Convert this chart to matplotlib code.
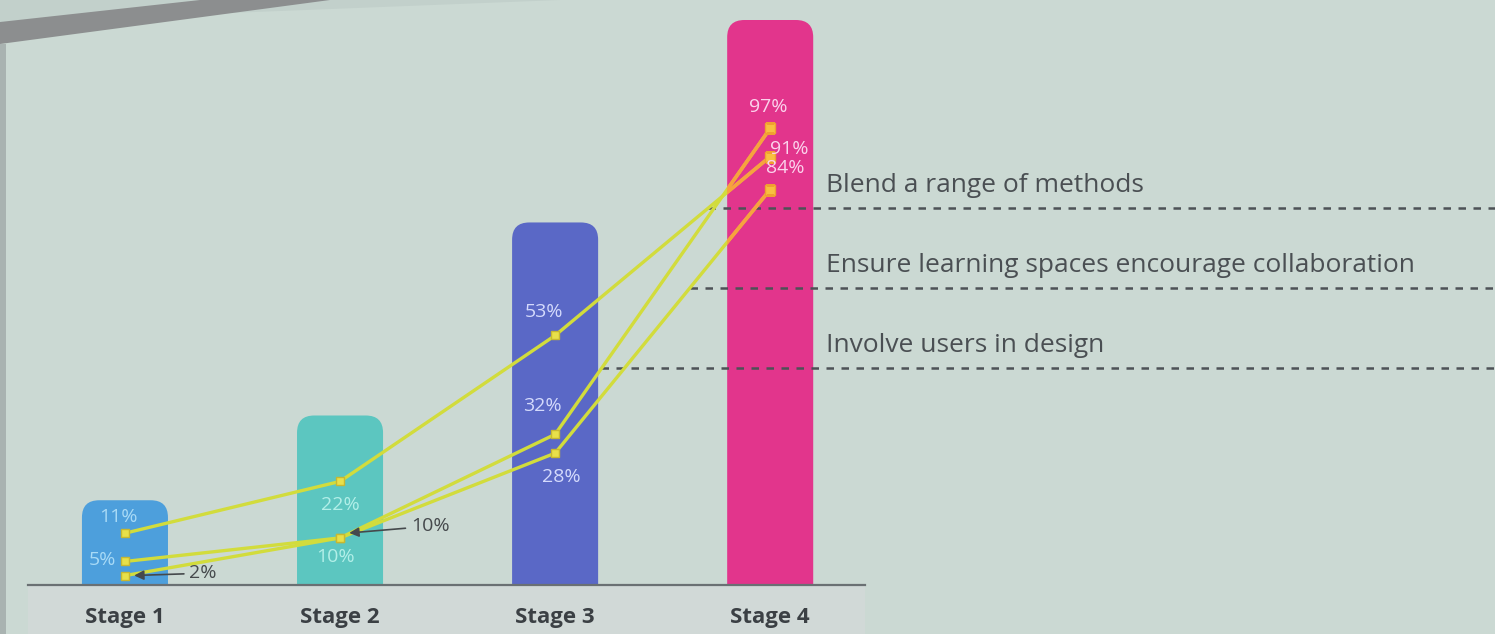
import numpy as np
import matplotlib
matplotlib.use('Agg')
import matplotlib.pyplot as plt
from matplotlib.patches import FancyBboxPatch, Polygon, Rectangle

plt.rcParams['font.family'] = ['Open Sans', 'DejaVu Sans']

# data
stages = ['Stage 1', 'Stage 2', 'Stage 3', 'Stage 4']
bar_levels = [18, 36, 77, 120]          # bar heights (same scale as the %)
bar_colors = ['#4d9fdc', '#5cc6c0', '#5a68c6', '#e2358c']
label_colors = ['#a8daf6', '#b2efe8', '#d4dafc', '#fbd3ec']

series_names = ['Blend a range of methods',
                'Ensure learning spaces encourage collaboration',
                'Involve users in design']
blend = [11, 22, 53, 91]
ensure = [2, 10, 28, 84]
involve = [5, 10, 32, 97]
series = [blend, ensure, involve]
label_heights = [80, 63, 46]            # where the dashed guide lines sit

line_color = '#d2dc3c'
marker_color = '#e8e04a'
bg = '#cbd9d3'

fig = plt.figure(figsize=(14.95, 6.34), dpi=100)
fig.patch.set_facecolor(bg)

# bits of the screen frame / slide panel seen in the photo
W, H = 1495, 634
def px(pts):
    return [(a / W, 1 - b / H) for a, b in pts]
frame = [
    Polygon(px([(0, 0), (560, 0), (0, 22)]), closed=True, fc='#c2d0cb'),
    Polygon(px([(0, 22), (200, 0), (330, 0), (0, 44)]), closed=True, fc='#8c8e8f'),
    Rectangle((0, 0), 6 / W, 1 - 44 / H, fc='#a9b3b1'),
    Rectangle((28 / W, 0), (865 - 28) / W, 49 / H, fc='#d1d9d7'),
]
for p in frame:
    p.set_transform(fig.transFigure)
    p.set_edgecolor('none')
    p.set_zorder(-5)
    fig.patches.append(p)

ax = fig.add_axes([0, 49 / 634, 1, 565 / 634])
ax.set_facecolor('none')
ax.set_xlim(-0.581, 6.37)
ax.set_ylim(0, 120)
x = np.arange(len(stages))

# rounded bars
ypx = 120 / 565
xpx = (6.37 + 0.581) / 1495
w = 0.40
bars = []
for xi, h, c in zip(x, bar_levels, bar_colors):
    p = FancyBboxPatch((xi - w / 2, -10), w, h + 10,
                       boxstyle='round,pad=0,rounding_size=0.08',
                       mutation_aspect=ypx / xpx, fc=c, ec='none', zorder=1)
    ax.add_patch(p)
    bars.append(p)

# lines (they look orange where they cross the pink bar)
for s in series:
    ax.plot(x, s, color=line_color, lw=2.4, zorder=3)
    ax.plot(x, s, ls='none', marker='s', ms=6, color=marker_color,
            mec='#c8b830', zorder=4)
    ln, = ax.plot(x, s, color='#f7a23e', lw=2.6, zorder=3.5)
    ln.set_clip_path(bars[3])
    mk, = ax.plot(x, s, ls='none', marker='s', ms=7, color='#f8c040',
                  mec='#f0a030', zorder=4.5)
    mk.set_clip_path(bars[3])

# value labels inside the bars
fs = 14
def lab(xi, y, txt, col, ha='center'):
    ax.text(xi, y, txt, color=col, fontsize=fs, ha=ha, va='center', zorder=5)

lab(-0.03, blend[0] + 3.5, f'{blend[0]}%', label_colors[0])
lab(-0.04, involve[0] + 0.3, f'{involve[0]}%', label_colors[0], ha='right')
lab(1.0, blend[1] - 5, f'{blend[1]}%', label_colors[1])
lab(0.98, ensure[1] - 4, f'{ensure[1]}%', label_colors[1])
lab(1.95, blend[2] + 5, f'{blend[2]}%', label_colors[2])
lab(1.94, involve[2] + 6, f'{involve[2]}%', label_colors[2])
lab(2.03, ensure[2] - 5, f'{ensure[2]}%', label_colors[2])
lab(2.99, involve[3] + 4.5, f'{involve[3]}%', label_colors[3])
lab(3.09, blend[3] + 1.5, f'{blend[3]}%', label_colors[3])
lab(3.07, ensure[3] + 4.5, f'{ensure[3]}%', label_colors[3])

# callouts outside the bars
ax.annotate(f'{ensure[0]}%', xy=(0.03, ensure[0]), xytext=(0.30, ensure[0] + 0.5),
            fontsize=fs, color='#45494c', va='center',
            arrowprops=dict(arrowstyle='-|>', color='#45494c', lw=1.2,
                            shrinkA=2, shrinkB=2))
ax.annotate(f'{ensure[1]}%', xy=(1.03, ensure[1] + 1), xytext=(1.33, ensure[1] + 2.5),
            fontsize=fs, color='#45494c', va='center',
            arrowprops=dict(arrowstyle='-|>', color='#45494c', lw=1.2,
                            shrinkA=2, shrinkB=2))

# dashed guides and series names on the right
for s, name, yl in zip(series, series_names, label_heights):
    x0 = np.interp(yl, s[2:], x[2:])
    ax.plot([x0, 6.37], [yl, yl], color='#4d5256', ls=(0, (3, 3)), lw=1.8, zorder=2)
    ax.text(3.26, yl + 2.2, name, fontsize=19, color='#4a4f53', va='bottom', zorder=5)

# baseline and stage labels
ax.plot([-0.45, 3.44], [0, 0], color='#6a7073', lw=1.6, clip_on=False, zorder=6)
for xi, st in zip(x, stages):
    ax.text(xi, -7, st, fontsize=16, fontweight='bold', color='#3b4044',
            ha='center', va='center', clip_on=False)

for sp in ax.spines.values():
    sp.set_visible(False)
ax.set_xticks([])
ax.set_yticks([])

fig.savefig('out.png', dpi=100, facecolor=fig.get_facecolor())
